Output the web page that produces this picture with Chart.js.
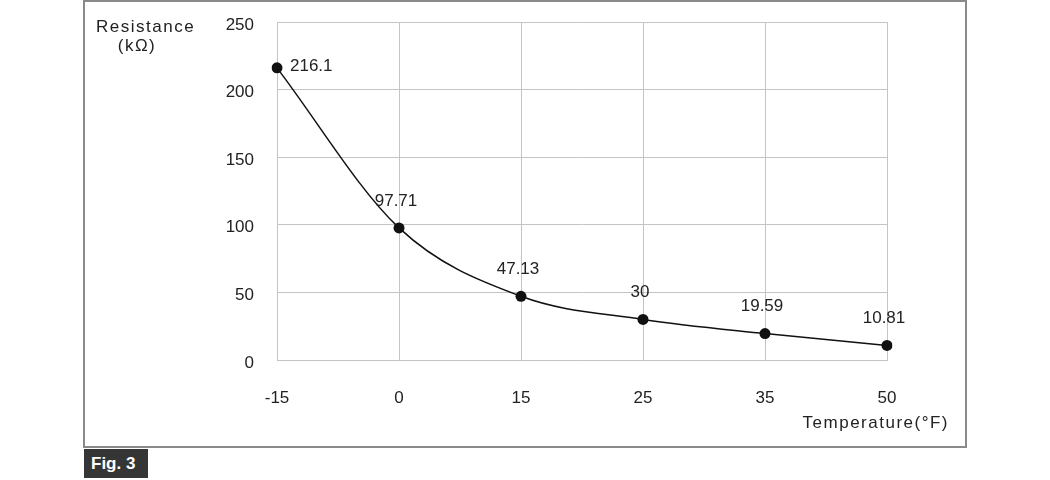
<!DOCTYPE html>
<html>
<head>
<meta charset="utf-8">
<script src="https://cdn.jsdelivr.net/npm/chart.js@4.4.1/dist/chart.umd.min.js"></script>
<style>
  html, body { margin: 0; padding: 0; background: #fff; }
  #wrap { position: relative; width: 1050px; height: 480px; overflow: hidden; }
  #frame {
    position: absolute; left: 83px; top: 0px; width: 880px; height: 444px;
    border: 2px solid #8a8a8a; box-sizing: content-box;
  }
  #fig {
    position: absolute; left: 84px; top: 449px; width: 64px; height: 29px;
    background: #353535; color: #fff; font: bold 17px "Liberation Sans", Arial, sans-serif;
    line-height: 29px; padding-left: 7px; box-sizing: border-box;
  }
  canvas { position: absolute; left: 0; top: 0; }
</style>
</head>
<body>
<div id="wrap">
  <div id="frame"></div>
  <canvas id="chart" width="1050" height="480"></canvas>
  <div id="fig">Fig. 3</div>
</div>
<script>
// --- data ---
const temperatures = ['-15', '0', '15', '25', '35', '50'];
const resistance = [216.1, 97.71, 47.13, 30, 19.59, 10.81];
const resistanceLabels = ['216.1', '97.71', '47.13', '30', '19.59', '10.81'];
const yTicks = [0, 50, 100, 150, 200, 250];

const FONT = '"Liberation Sans", Arial, sans-serif';
const TEXT = '#222';

// labels next to each point + the two axis titles
const annotatePlugin = {
    id: 'annotate',
    afterDatasetsDraw(chart) {
        const ctx = chart.ctx;
        const meta = chart.getDatasetMeta(0);
        ctx.save();
        ctx.fillStyle = TEXT;
        ctx.font = '17px ' + FONT;
        ctx.textBaseline = 'middle';
        meta.data.forEach((pt, i) => {
            if (i === 0) {
                ctx.textAlign = 'left';
                ctx.fillText(resistanceLabels[i], pt.x + 13, pt.y - 2);
            } else {
                ctx.textAlign = 'center';
                ctx.fillText(resistanceLabels[i], pt.x - 3, pt.y - 27);
            }
        });

        // axis titles
        ctx.font = '17px ' + FONT;
        ctx.letterSpacing = '1.5px';
        ctx.textAlign = 'left';
        ctx.fillText('Resistance', 96, 27);
        ctx.textAlign = 'center';
        ctx.fillText('(kΩ)', 137, 46);
        ctx.textAlign = 'right';
        ctx.fillText('Temperature(°F)', 949, 423);
        ctx.restore();
    }
};

new Chart(document.getElementById('chart').getContext('2d'), {
    type: 'line',
    data: {
        labels: temperatures,
        datasets: [{
            data: resistance,
            borderColor: '#111',
            borderWidth: 1.5,
            backgroundColor: '#111',
            pointBackgroundColor: '#111',
            pointBorderWidth: 0,
            pointRadius: 5.5,
            cubicInterpolationMode: 'monotone',
            fill: false
        }]
    },
    options: {
        responsive: false,
        animation: false,
        layout: { padding: { left: 0, top: 22, right: 163, bottom: 0 } },
        plugins: {
            legend: { display: false },
            tooltip: { enabled: false }
        },
        scales: {
            x: {
                type: 'category',
                offset: false,
                grid: { color: '#c4c4c4', lineWidth: 1, drawTicks: false },
                border: { color: '#c4c4c4' },
                ticks: { color: TEXT, font: { family: FONT, size: 17 }, padding: 28, maxRotation: 0 },
                afterFit(scale) { scale.height = 120; }
            },
            y: {
                min: 0,
                max: 250,
                afterBuildTicks(scale) { scale.ticks = yTicks.map(v => ({ value: v })); },
                grid: { color: '#c4c4c4', lineWidth: 1, drawTicks: false },
                border: { color: '#c4c4c4' },
                ticks: { color: TEXT, font: { family: FONT, size: 17 }, padding: 23, labelOffset: 3 },
                afterFit(scale) {
                    scale.width = 277;
                    scale.paddingTop = 0;
                    scale.paddingBottom = 0;
                }
            }
        }
    },
    plugins: [annotatePlugin]
});
</script>
</body>
</html>
